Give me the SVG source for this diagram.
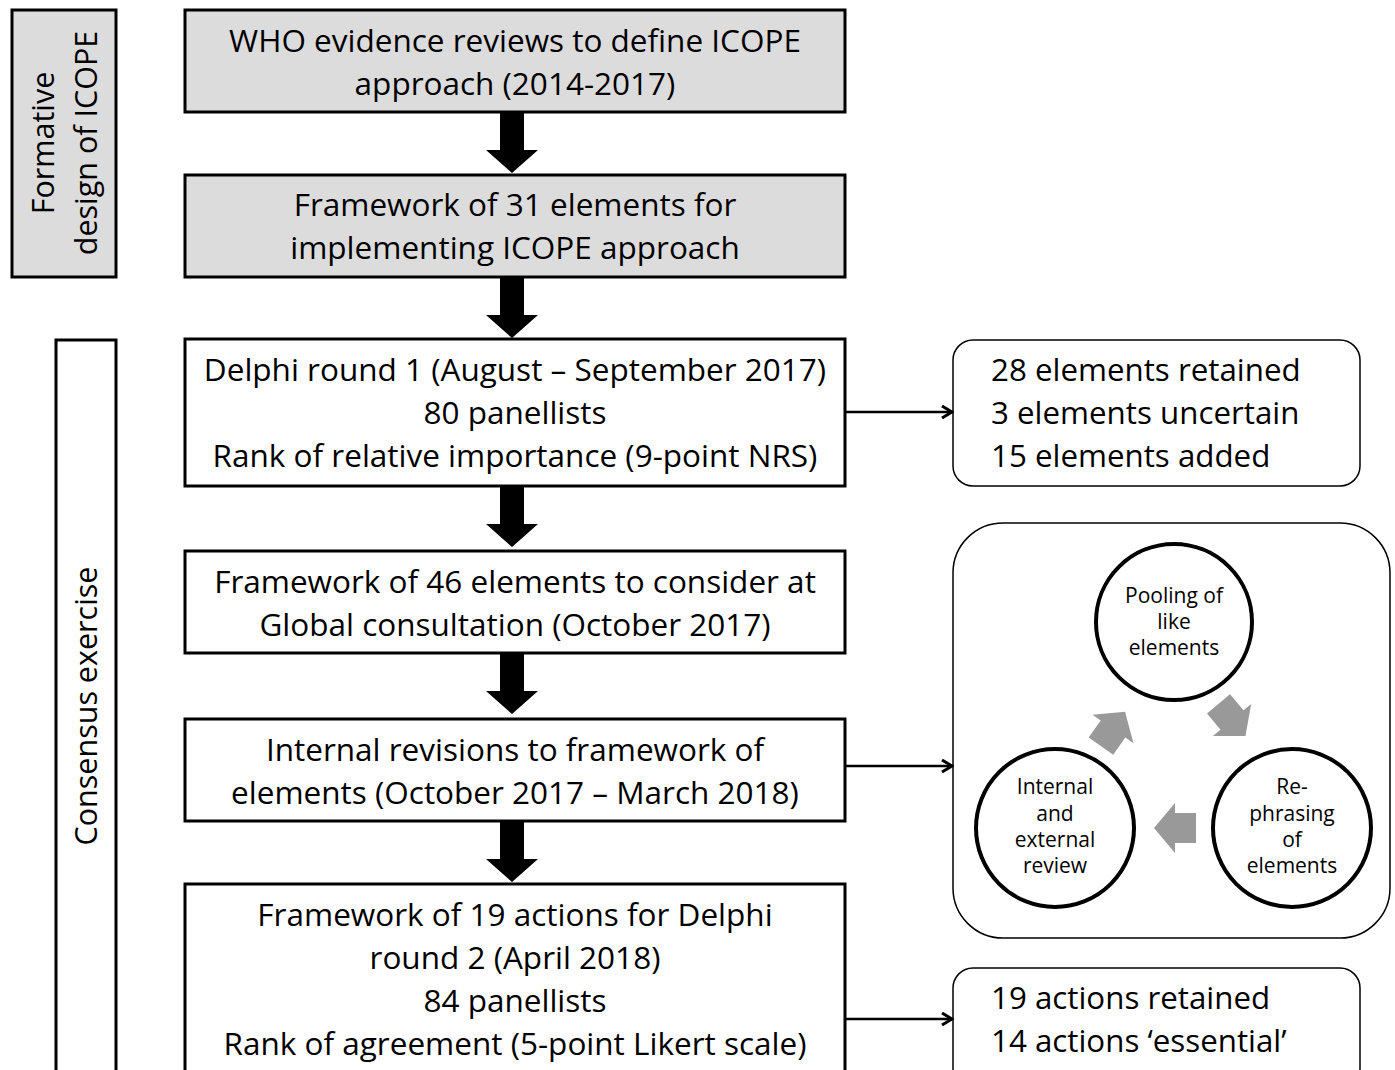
<svg xmlns="http://www.w3.org/2000/svg" width="1395" height="1070" viewBox="0 0 1395 1070">
<style>
text{font-family:"Open Sans","Noto Sans","Liberation Sans",sans-serif;fill:#000}
.t{font-size:31.5px;text-anchor:middle}
.s{font-size:30.5px;text-anchor:middle}
.l{font-size:31.3px}
.c{font-size:21px;text-anchor:middle}
.box{stroke:#000;stroke-width:3;fill:#fff}
.g{fill:#dcdcdc}
.circ{fill:#fff;stroke:#000;stroke-width:4}
.rb{fill:#fff;stroke:#000;stroke-width:1.5}
.blk{fill:#000}
.ga{fill:#999}
.ln{stroke:#000;stroke-width:2.5;fill:none}
</style>
<defs>
<marker id="ah" markerWidth="14" markerHeight="14" refX="11" refY="7" orient="auto" markerUnits="userSpaceOnUse">
<path d="M2,1 L12,7 L2,13" fill="none" stroke="#000" stroke-width="3"/>
</marker>
<path id="down" d="M-12,0 L12,0 L12,38 L26,38 L0,61 L-26,38 L-12,38 Z"/>
<path id="garr" d="M-21,-15 L0,-15 L0,-25 L21,0 L0,25 L0,15 L-21,15 Z"/>
</defs>

<g id="side-formative">
<rect class="box g" x="12" y="10" width="104" height="267"/>
<text class="s" transform="translate(54,143) rotate(-90)">Formative</text>
<text class="s" transform="translate(97,143) rotate(-90)">design of ICOPE</text>
</g>
<g id="side-consensus">
<rect class="box" x="56" y="340" width="60" height="740"/>
<text class="s" transform="translate(97,706) rotate(-90)">Consensus exercise</text>
</g>

<g id="n1">
<rect class="box g" x="185" y="10" width="660" height="102"/>
<text class="t" x="515" y="52">WHO evidence reviews to define ICOPE</text>
<text class="t" x="515" y="95">approach (2014-2017)</text>
</g>
<g id="n2">
<rect class="box g" x="185" y="175" width="660" height="102"/>
<text class="t" x="515" y="216">Framework of 31 elements for</text>
<text class="t" x="515" y="259">implementing ICOPE approach</text>
</g>
<g id="n3">
<rect class="box" x="185" y="339" width="660" height="147"/>
<text class="t" x="515" y="381">Delphi round 1 (August – September 2017)</text>
<text class="t" x="515" y="424">80 panellists</text>
<text class="t" x="515" y="467">Rank of relative importance (9-point NRS)</text>
</g>
<g id="n4">
<rect class="box" x="185" y="551" width="660" height="102"/>
<text class="t" x="515" y="593">Framework of 46 elements to consider at</text>
<text class="t" x="515" y="636">Global consultation (October 2017)</text>
</g>
<g id="n5">
<rect class="box" x="185" y="719" width="660" height="102"/>
<text class="t" x="515" y="761">Internal revisions to framework of</text>
<text class="t" x="515" y="804">elements (October 2017 – March 2018)</text>
</g>
<g id="n6">
<rect class="box" x="185" y="884" width="660" height="200"/>
<text class="t" x="515" y="926">Framework of 19 actions for Delphi</text>
<text class="t" x="515" y="969">round 2 (April 2018)</text>
<text class="t" x="515" y="1012">84 panellists</text>
<text class="t" x="515" y="1055">Rank of agreement (5-point Likert scale)</text>
</g>

<g id="r1">
<rect class="rb" x="953" y="340" width="407" height="146" rx="20"/>
<text class="l" x="991" y="381">28 elements retained</text>
<text class="l" x="991" y="424">3 elements uncertain</text>
<text class="l" x="991" y="467">15 elements added</text>
</g>
<g id="r2">
<rect class="rb" x="953" y="523" width="437" height="415" rx="50"/>
</g>
<g id="c-pool">
<circle class="circ" cx="1174" cy="622" r="78"/>
<text class="c" x="1174" y="603">Pooling of</text>
<text class="c" x="1174" y="629">like</text>
<text class="c" x="1174" y="655">elements</text>
</g>
<g id="c-review">
<circle class="circ" cx="1055" cy="828" r="79"/>
<text class="c" x="1055" y="794">Internal</text>
<text class="c" x="1055" y="821">and</text>
<text class="c" x="1055" y="847">external</text>
<text class="c" x="1055" y="873">review</text>
</g>
<g id="c-rephrase">
<circle class="circ" cx="1292" cy="828" r="79"/>
<text class="c" x="1292" y="794">Re-</text>
<text class="c" x="1292" y="821">phrasing</text>
<text class="c" x="1292" y="847">of</text>
<text class="c" x="1292" y="873">elements</text>
</g>
<g id="r3">
<rect class="rb" x="953" y="968" width="407" height="120" rx="20"/>
<text class="l" x="991" y="1009">19 actions retained</text>
<text class="l" x="991" y="1052">14 actions ‘essential’</text>
</g>

<g id="connectors">
<use href="#down" class="blk" transform="translate(512,112)"/>
<use href="#down" class="blk" transform="translate(512,277)"/>
<use href="#down" class="blk" transform="translate(512,486)"/>
<use href="#down" class="blk" transform="translate(512,653)"/>
<use href="#down" class="blk" transform="translate(512,821)"/>
<line class="ln" x1="845" y1="412" x2="951" y2="412" marker-end="url(#ah)"/>
<line class="ln" x1="845" y1="766" x2="951" y2="766" marker-end="url(#ah)"/>
<line class="ln" x1="845" y1="1019" x2="951" y2="1019" marker-end="url(#ah)"/>
<use href="#garr" class="ga" transform="translate(1113,729) rotate(-55)"/>
<use href="#garr" class="ga" transform="translate(1232,720) rotate(50)"/>
<use href="#garr" class="ga" transform="translate(1175,828) rotate(180)"/>
</g>
</svg>
